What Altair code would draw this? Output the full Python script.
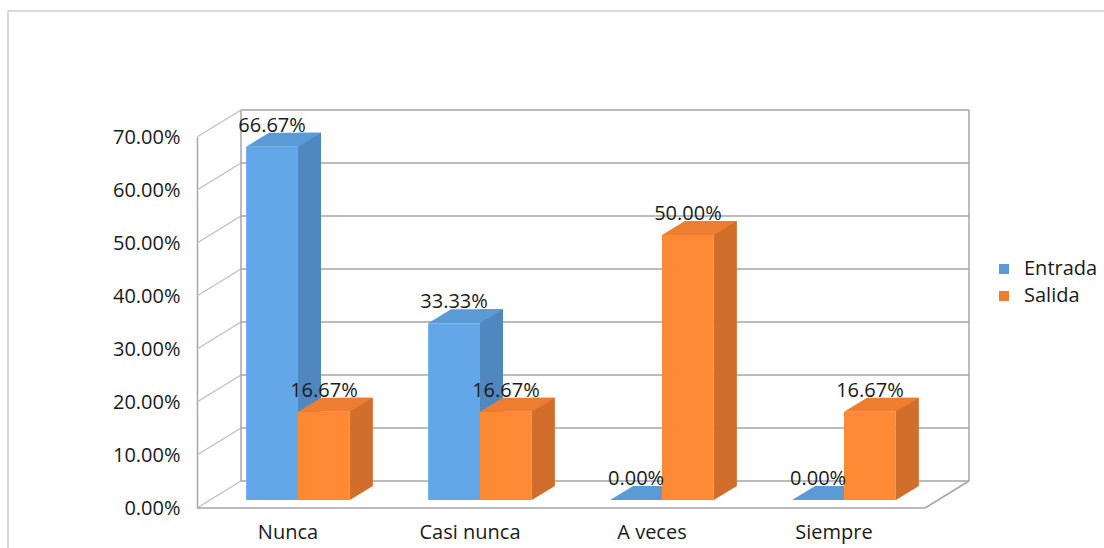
import altair as alt
import pandas as pd

categorias = ["Nunca", "Casi nunca", "A veces", "Siempre"]
series = ["Entrada", "Salida"]
entrada = [66.67, 33.33, 0.00, 0.00]
salida = [16.67, 16.67, 50.00, 16.67]
ticks = [0, 10, 20, 30, 40, 50, 60, 70]

rows = []
for i, c in enumerate(categorias):
    rows.append({"categoria": c, "serie": "Entrada", "valor": entrada[i]})
    rows.append({"categoria": c, "serie": "Salida", "valor": salida[i]})
df = pd.DataFrame(rows)
df["etiqueta"] = df["valor"].map(lambda v: f"{v:.2f}%")
grid_df = pd.DataFrame({"v": ticks})
one = pd.DataFrame({"k": [0]})

FONT = "Open Sans"
FS = 20
GRID = "#BFBFBF"
EDGE = "#A6A6A6"
TXT = "#1A1A1A"

# geometry (pixels, relative to plot origin)
W_FRONT = 728
W_ALL = 772
H = 398
DX, DY = 44, -27

BX, BY = 10, -8       # front face shift
DD_X, DD_Y = 23, -14  # bar depth
SUB = W_FRONT / 4 * (1 - 0.43) / 2  # width of one bar

COLORS = {
    "Entrada": {"front": "#62A8E8", "side": "#4F87BF", "top": "#5B9BD5"},
    "Salida": {"front": "#FF8A35", "side": "#D26E2C", "top": "#ED7D31"},
}

y_scale = alt.Scale(domain=[0, 70], range=[H, 27], nice=False)
y_axis = alt.Axis(
    orient="left", title=None, values=ticks, grid=False, ticks=False,
    labelExpr="format(datum.value, '.2f') + '%'",
    labelPadding=17, labelFont=FONT, labelFontSize=FS, labelColor=TXT,
    domainColor=EDGE, domainWidth=1.5,
)


def yenc(field):
    return alt.Y(f"{field}:Q", scale=y_scale, axis=y_axis)


def xenc(shift, axis=None):
    return alt.X(
        "categoria:N", sort=categorias,
        scale=alt.Scale(domain=categorias, range=[shift, W_FRONT + shift],
                        paddingInner=0.43, paddingOuter=0.215),
        axis=axis,
    )


xoff_band = alt.XOffset("serie:N", sort=series, scale=alt.Scale(
    type="band", domain=series, paddingInner=0, paddingOuter=0))
xoff_point = alt.XOffset("serie:N", sort=series, scale=alt.Scale(
    type="point", domain=series, padding=0.5))

# parallelogram for the top face: width SUB + depth, height |depth|
r_top = (SUB + DD_X) / 2
px = (SUB - DD_X) / 2 / r_top
py = -DD_Y / 2 / r_top
top_path = f"M -1 {py:.4f} L {px:.4f} {py:.4f} L 1 {-py:.4f} L {-px:.4f} {-py:.4f} Z"
# triangle closing the bottom of the side face
r_tri = DD_X / 2
ty = -DD_Y / 2 / r_tri
tri_path = f"M -1 {-ty:.4f} L -1 {ty:.4f} L 1 {-ty:.4f} Z"

# outer frame
frame_top = alt.Chart(one).mark_rule(color="#D9D9D9", strokeWidth=2).encode(
    x=alt.value(-189), x2=alt.value(910), y=alt.value(-99)
)
frame_left = alt.Chart(one).mark_rule(color="#D9D9D9", strokeWidth=2).encode(
    x=alt.value(-189), y=alt.value(-99), y2=alt.value(445)
)

# back wall gridlines
back_grid = alt.Chart(grid_df).mark_rule(color=EDGE, strokeWidth=1.3, yOffset=DY).encode(
    x=alt.value(DX), x2=alt.value(W_ALL), y=yenc("v"),
)
# side wall diagonals
side_grid = alt.Chart(grid_df).mark_rule(color=GRID, strokeWidth=1.3, y2Offset=DY).encode(
    x=alt.value(0), x2=alt.value(DX), y=yenc("v"), y2=alt.Y2("v"),
)
back_left = alt.Chart(one).mark_rule(color=EDGE, strokeWidth=1.5).encode(
    x=alt.value(DX), y=alt.value(0), y2=alt.value(H + DY)
)
back_right = alt.Chart(one).mark_rule(color=EDGE, strokeWidth=1.5).encode(
    x=alt.value(W_ALL), y=alt.value(0), y2=alt.value(H + DY)
)
floor_right = alt.Chart(one).mark_rule(color=EDGE, strokeWidth=1.5).encode(
    x=alt.value(W_FRONT), x2=alt.value(W_ALL), y=alt.value(H), y2=alt.value(H + DY)
)
floor_front = alt.Chart(one).mark_rule(color=EDGE, strokeWidth=1.5).encode(
    x=alt.value(0), x2=alt.value(W_FRONT), y=alt.value(H)
)

layers = [frame_top, frame_left, back_grid, side_grid, back_left, back_right,
          floor_right, floor_front]

x_axis = alt.Axis(
    orient="bottom", title=None, labelAngle=0, ticks=False, domain=False,
    labelPadding=14, labelOffset=-BX,
    labelFont=FONT, labelFontSize=FS, labelColor=TXT,
)

for k, s in enumerate(series):
    base = alt.Chart(df).transform_filter(alt.datum.serie == s)
    c = COLORS[s]
    side = base.mark_bar(
        width=DD_X, color=c["side"], yOffset=BY + DD_Y, y2Offset=BY + DD_Y
    ).encode(x=xenc(BX + SUB / 2 + DD_X / 2), xOffset=xoff_band, y=yenc("valor"))
    tri = base.transform_calculate(cero="0").mark_point(
        shape=tri_path, size=(2 * r_tri) ** 2, filled=True, opacity=1,
        strokeWidth=0, color=c["side"], yOffset=BY + DD_Y / 2,
    ).encode(x=xenc(BX + SUB / 2 + DD_X / 2), xOffset=xoff_point, y=yenc("cero"))
    top = base.mark_point(
        shape=top_path, size=(2 * r_top) ** 2, filled=True, opacity=1,
        strokeWidth=0, color=c["top"], yOffset=BY + DD_Y / 2,
    ).encode(x=xenc(BX + DD_X / 2), xOffset=xoff_point, y=yenc("valor"))
    front = base.mark_bar(color=c["front"], yOffset=BY, y2Offset=BY).encode(
        x=xenc(BX, x_axis if k == 0 else None), xOffset=xoff_band, y=yenc("valor"),
    )
    layers += [side, tri, top, front]

labels = alt.Chart(df).mark_text(
    dy=BY - 21, font=FONT, fontSize=FS, color=TXT, baseline="middle"
).encode(
    x=xenc(BX), xOffset=xoff_point, y=yenc("valor"), text="etiqueta:N",
)

# legend carrier (invisible marks)
legend_layer = alt.Chart(df).mark_point(opacity=0, size=0).encode(
    x=xenc(BX), xOffset=xoff_point, y=yenc("valor"),
    fill=alt.Fill(
        "serie:N", sort=series,
        scale=alt.Scale(domain=series, range=[COLORS[s]["top"] for s in series]),
        legend=alt.Legend(
            title=None, orient="none", legendX=797, legendY=149,
            symbolType="square", symbolSize=100, symbolStrokeWidth=0, symbolOpacity=1,
            labelFont=FONT, labelFontSize=FS, labelColor=TXT,
            rowPadding=7, labelOffset=10,
        ),
    ),
)

layers += [labels, legend_layer]

chart = alt.layer(*layers).resolve_scale(
    x="independent", xOffset="independent"
).properties(
    width=W_ALL, height=H,
    autosize=alt.AutoSizeParams(type="none"),
    padding={"left": 197, "top": 110, "right": 135, "bottom": 40},
    background="white",
).configure_view(stroke=None)

chart.save("out.html", embed_options={"renderer": "svg", "actions": False})
